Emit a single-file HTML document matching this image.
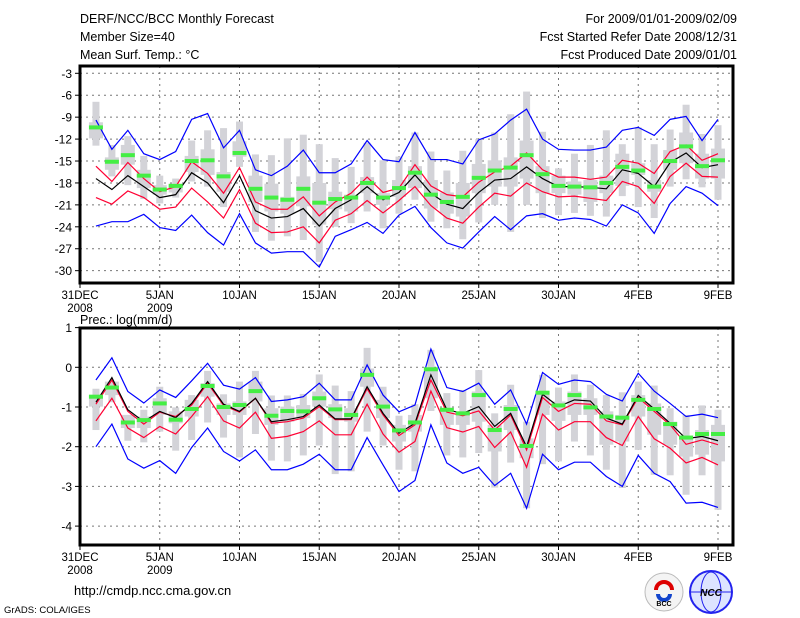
<!DOCTYPE html>
<html><head><meta charset="utf-8">
<style>
body{margin:0;background:#fff;}
svg{display:block;font-family:"Liberation Sans",sans-serif;}
text{fill:#000;}
</style></head>
<body>
<svg id="c" width="800" height="618" viewBox="0 0 800 618" xmlns="http://www.w3.org/2000/svg">
<g font-size="12.5">
<text x="80" y="23">DERF/NCC/BCC Monthly Forecast</text>
<text x="80" y="41">Member Size=40</text>
<text x="80" y="59">Mean Surf. Temp.: °C</text>
<text x="737" y="23" text-anchor="end">For 2009/01/01-2009/02/09</text>
<text x="737" y="41" text-anchor="end">Fcst Started Refer Date 2008/12/31</text>
<text x="737" y="59" text-anchor="end">Fcst Produced Date 2009/01/01</text>
<text x="80" y="324">Prec.: log(mm/d)</text>
</g>
<g id="top"></g>
<g id="bot"></g>
<text x="74" y="595" font-size="13">http://cmdp.ncc.cma.gov.cn</text>
<text x="4" y="613" font-size="9.5">GrADS: COLA/IGES</text>
<g>
<circle cx="664" cy="592" r="19" fill="#f4f4f4" stroke="#bbb"/>
<path d="M656 590 a8 8 0 1 1 16 0" fill="none" stroke="#d00" stroke-width="4"/>
<path d="M658 594 a6 6 0 0 0 12 0" fill="none" stroke="#14c" stroke-width="4"/>
<text x="664" y="606" font-size="7" text-anchor="middle" font-weight="bold">BCC</text>
</g>
<g>
<circle cx="711" cy="592" r="21" fill="#dde4ff" stroke="#22e" stroke-width="2"/>
<ellipse cx="711" cy="592" rx="10" ry="20" fill="none" stroke="#22e"/>
<line x1="691" y1="592" x2="731" y2="592" stroke="#22e"/>
<text x="711" y="596" font-size="10" text-anchor="middle" fill="#22e" font-style="italic" font-weight="bold">NCC</text>
</g>
</svg>
<script>
// ---- Temperature panel data (days 1..40) ----
const tDays = [1,2,3,4,5,6,7,8,9,10,11,12,13,14,15,16,17,18,19,20,21,22,23,24,25,26,27,28,29,30,31,32,33,34,35,36,37,38,39,40];
const tBlueUp = [-9.4,-13.4,-10.8,-14,-14.8,-13.7,-9.3,-8.5,-13.2,-10.8,-16.2,-17,-15.7,-13.5,-16.6,-16.6,-15.4,-12.2,-14.8,-15.1,-11.1,-14.8,-14.8,-15.4,-12.1,-11.3,-9.4,-7.9,-12,-13.4,-13.5,-13.5,-13.1,-10.8,-10.4,-11.5,-9.3,-8.9,-12.2,-9.3];
const tRedUp = [-15.7,-17.8,-15.2,-17.4,-19.2,-18.5,-15.1,-16.7,-19.4,-15.9,-20.6,-21.6,-21.6,-19.9,-22.5,-20.6,-19.4,-17.2,-19.3,-18.7,-15.5,-18.4,-19.6,-19.9,-17.9,-16.5,-15.7,-13.9,-16.2,-17.2,-17.2,-17.5,-17.2,-14.9,-15.3,-16.7,-13.7,-12.8,-14.9,-14];
const tMean = [-17.4,-18.9,-17,-18.5,-20,-19.6,-16.6,-18,-20.7,-17,-21.8,-22.8,-22.6,-21.5,-23.9,-21.5,-20.3,-18.5,-20.3,-19.3,-16.9,-19.4,-20.9,-21.5,-19.3,-17.6,-17.4,-15.8,-17.4,-18.5,-18.5,-18.6,-18.8,-16.2,-16.7,-18.5,-15.2,-13.9,-15.9,-15.5];
const tRedLo = [-20,-20.9,-19.1,-20,-21.6,-21.3,-18.7,-20.6,-22.8,-18.9,-23.5,-24.8,-24.7,-24,-26.2,-23.1,-22.2,-20.4,-22.1,-20.4,-18.5,-21.1,-22.8,-23.5,-21.3,-19.4,-19.8,-18,-19.2,-19.9,-19.8,-20.1,-20.4,-17.8,-18.5,-20.8,-17.1,-15.3,-17.1,-17.2];
const tBlueLo = [-23.9,-23.3,-23.3,-22.3,-24.1,-24.5,-22.4,-24.8,-26.5,-22.2,-26.2,-27.6,-27.4,-27.4,-29.5,-25.3,-24.4,-23.4,-24.9,-22.4,-21.2,-24.1,-26.2,-26.9,-24.7,-22.6,-24.4,-22.5,-22.2,-23.1,-22.8,-23,-23.9,-21,-22.1,-24.9,-20.8,-18.5,-19.4,-21.1];
const tGreen = [-10.4,-15.1,-14.2,-17,-18.9,-18.4,-15,-14.9,-17.1,-13.9,-18.8,-20,-20.3,-18.8,-20.7,-20.2,-20,-18,-20,-18.7,-16.6,-19.6,-20.6,-19.9,-17.3,-16.3,-15.9,-14.2,-16.8,-18.4,-18.5,-18.6,-18,-15.8,-16.3,-18.5,-15,-13,-15.7,-14.9];
const tMax = [-6.9,-12.8,-11.6,-14.3,-17,-17.4,-12.2,-10.8,-10.5,-9.6,-14.1,-14.2,-11.9,-11.4,-12.7,-14.6,-15.8,-12.5,-14.9,-14.4,-11.1,-13.7,-16.3,-13.6,-12,-11.1,-8.6,-5.5,-11,-16,-14,-12.8,-10.8,-12.7,-10.4,-12.7,-10.7,-7.3,-11.3,-10.1];
const tMin = [-12.9,-17.1,-18.3,-20.2,-20.8,-20,-17.8,-18.5,-21.3,-15.8,-24.7,-25.9,-25.3,-25.8,-28.8,-24,-23.5,-21.9,-24.2,-22.2,-20.3,-23.3,-24.2,-25.7,-23.4,-21,-24.7,-21,-22.8,-22.4,-22.1,-22.5,-22.6,-19.8,-21.3,-22.8,-18.5,-17.5,-18.6,-20.3];
const tQ3 = [-9.7,-14.5,-12.8,-16.2,-18.3,-18.1,-14.3,-13.4,-16.5,-12.3,-17,-18.1,-19.9,-17.1,-18,-19.2,-19.6,-17.2,-19.4,-17.6,-15.7,-17.6,-19.3,-18,-15.4,-14.9,-14.5,-12.2,-15.7,-17,-17.8,-17.6,-17,-14,-15.3,-17.6,-13.5,-11.1,-14,-13.3];
const tQ1 = [-11.9,-16.2,-15.5,-18.7,-19.6,-19.3,-16.5,-16.9,-19.2,-14.4,-20.6,-21.9,-22.2,-21.2,-23.7,-21.6,-21.9,-19.4,-21,-19.9,-18.7,-21.5,-22.2,-22.6,-19.4,-18.5,-18.5,-17.4,-19.4,-19.4,-19.6,-20.6,-19.4,-18.4,-16.9,-19.2,-16.2,-15.3,-17.4,-17.4];
const tTicks = [-3,-6,-9,-12,-15,-18,-21,-24,-27,-30];

// ---- Precipitation panel data ----
const pBlueUp = [-0.32,0.24,-0.61,-0.9,-0.57,-0.76,-0.34,0.1,-0.45,-0.55,-0.26,-0.86,-0.82,-0.74,-0.4,-0.82,-0.82,0.06,-0.7,-1.12,-0.95,0.46,-0.51,-0.61,-0.4,-0.93,-0.57,-1.43,-0.13,-0.43,-0.32,-0.36,-0.68,-0.85,-0.15,-0.6,-0.91,-1.24,-1.18,-1.27];
const pRedUp = [-0.93,-0.32,-1.11,-1.43,-1.13,-1.24,-0.95,-0.4,-0.96,-1.13,-0.78,-1.41,-1.37,-1.28,-0.99,-1.32,-1.32,-0.54,-1.2,-1.72,-1.45,-0.32,-1.13,-1.22,-1.1,-1.58,-1.2,-2.08,-0.76,-1.11,-0.91,-0.93,-1.35,-1.45,-0.76,-1.11,-1.45,-1.94,-1.83,-1.95];
const pMean = [-0.88,-0.26,-1.07,-1.37,-1.11,-1.27,-0.91,-0.36,-0.93,-1.11,-0.78,-1.37,-1.32,-1.24,-0.95,-1.3,-1.3,-0.49,-1.16,-1.66,-1.41,-0.19,-1.07,-1.16,-0.99,-1.49,-1.16,-2,-0.68,-0.99,-0.82,-0.85,-1.28,-1.43,-0.71,-1.05,-1.41,-1.8,-1.74,-1.85];
const pRedLo = [-1.35,-0.78,-1.53,-1.77,-1.49,-1.68,-1.24,-0.74,-1.35,-1.53,-1.13,-1.79,-1.74,-1.62,-1.35,-1.7,-1.7,-0.93,-1.68,-2.14,-1.87,-0.6,-1.52,-1.63,-1.49,-2.02,-1.63,-2.52,-1.18,-1.58,-1.37,-1.37,-1.77,-1.97,-1.24,-1.8,-2.04,-2.41,-2.27,-2.46];
const pBlueLo = [-2,-1.43,-2.31,-2.54,-2.35,-2.67,-2.02,-1.53,-2.12,-2.36,-2.08,-2.58,-2.58,-2.44,-2.19,-2.58,-2.58,-1.77,-2.46,-3.13,-2.85,-1.45,-2.41,-2.67,-2.52,-2.98,-2.67,-3.55,-2.19,-2.58,-2.39,-2.39,-2.75,-3,-2.22,-2.67,-2.88,-3.42,-3.4,-3.53];
const pGreen = [-0.74,-0.51,-1.39,-1.33,-0.91,-1.32,-1.05,-0.47,-1,-0.95,-0.6,-1.22,-1.1,-1.11,-0.78,-1.06,-1.2,-0.19,-0.99,-1.59,-1.39,-0.05,-1.07,-1.16,-0.7,-1.58,-1.05,-1.98,-0.64,-0.96,-0.7,-1.01,-1.24,-1.27,-0.82,-1.05,-1.43,-1.77,-1.68,-1.68];
const pMax = [-0.54,-0.36,-1.2,-1.07,-0.49,-1.01,-0.7,-0.09,-0.68,-0.36,-0.09,-0.71,-0.71,-0.67,-0.18,-0.46,-0.6,0.49,-0.49,-1.22,-0.93,0.44,-0.65,-0.57,-0.07,-1.16,-0.44,-1.37,-0.19,-0.51,-0.18,-0.44,-0.7,-0.63,-0.36,-0.46,-1.03,-1.2,-0.96,-1.07];
const pMin = [-1.58,-0.88,-1.85,-1.89,-1.62,-2.1,-1.83,-1.39,-1.77,-2.27,-1.68,-2.35,-2.37,-2.22,-1.97,-2.69,-2.62,-1.62,-1.97,-2.58,-2.62,-1.1,-2.22,-2.27,-2.16,-3.03,-2.4,-3.55,-2.44,-2.37,-1.87,-2.22,-2.58,-3.04,-2.08,-2.71,-2.72,-3.21,-2.72,-3.59];
const pQ3 = [-0.7,-0.36,-1.2,-1.24,-0.78,-1.11,-0.82,-0.4,-0.91,-0.86,-0.36,-1.03,-0.99,-0.95,-0.61,-0.93,-1.03,-0.03,-0.82,-1.45,-1.2,-0.03,-1.07,-1.11,-0.61,-1.45,-0.95,-1.79,-0.61,-0.86,-0.61,-0.78,-1.11,-1.2,-0.7,-0.91,-1.37,-1.74,-1.58,-1.45];
const pQ1 = [-0.99,-0.7,-1.53,-1.53,-1.2,-1.41,-1.24,-0.74,-1.2,-1.2,-0.86,-1.45,-1.37,-1.28,-0.99,-1.28,-1.37,-0.49,-1.28,-1.87,-1.62,-0.78,-1.45,-1.45,-1.37,-2.12,-1.58,-2.29,-1.2,-1.35,-1.2,-1.2,-1.95,-1.87,-1.24,-1.7,-1.95,-2.25,-2.2,-2.37];
const pTicks = [1,0,-1,-2,-3,-4];

const xTickDays = [0,5,10,15,20,25,30,35,40];
const xTickLab1 = ['31DEC','5JAN','10JAN','15JAN','20JAN','25JAN','30JAN','4FEB','9FEB'];
const xTickLab2 = ['2008','2009','','','','','','',''];

const NS='http://www.w3.org/2000/svg';
function mk(parent,tag,attrs){const e=document.createElementNS(NS,tag);for(const k in attrs)e.setAttribute(k,attrs[k]);parent.appendChild(e);return e;}
const X = d => 80 + d*15.95;

function panel(g, top, bottom, Y, ticks, d){
  // grid
  xTickDays.forEach((dd,i)=>{
    if(dd>0 && dd<41){
      const l=mk(g,'line',{x1:X(dd),x2:X(dd),y1:top,y2:bottom,stroke:'#777','stroke-dasharray':'2,4','stroke-width':1});
      
      
    }
    const tk=mk(g,'line',{x1:X(dd),x2:X(dd),y1:bottom,y2:bottom+5,stroke:'#000'});
    
    
    const t=mk(g,'text',{x:X(dd),y:bottom+16,'font-size':11.5,'text-anchor':'middle'});
    t.textContent=xTickLab1[i];
    
    
    if(xTickLab2[i]){
      const t2=mk(g,'text',{x:X(dd),y:bottom+29,'font-size':11.5,'text-anchor':'middle'});
      t2.textContent=xTickLab2[i];
      
      
    }
  });
  ticks.forEach(v=>{
    const y=Y(v);
    const l=mk(g,'line',{x1:80,x2:733,y1:y,y2:y,stroke:'#777','stroke-dasharray':'2,4','stroke-width':1});
    
    
    const tk=mk(g,'line',{x1:75,x2:80,y1:y,y2:y,stroke:'#000'});
    
    
    const t=mk(g,'text',{x:72,y:y+4.5,'font-size':12,'text-anchor':'end'});
    t.textContent=String(v);
    
    
  });
  // boxes
  tDays.forEach((day,i)=>{
    const r=mk(g,'rect',{x:X(day)-3.5,width:7,y:Y(d.max[i]),height:Y(d.min[i])-Y(d.max[i]),fill:'#d3d3d8'});
    
    
    const q=mk(g,'rect',{x:X(day)-7,width:14,y:Y(d.q3[i]),height:Y(d.q1[i])-Y(d.q3[i]),fill:'#d3d3d8'});
    
    
  });
  const series=[[d.blueUp,'#0000ff','blue-upper-line'],[d.blueLo,'#0000ff','blue-lower-line'],[d.redUp,'#ff0033','red-upper-line'],[d.redLo,'#ff0033','red-lower-line'],[d.mean,'#000','ensemble-mean-line']];
  series.forEach(([arr,col,name])=>{
    const p=mk(g,'polyline',{points:arr.map((v,i)=>X(tDays[i])+','+Y(v)).join(' '),fill:'none',stroke:col,'stroke-width':1.2});
    
    
  });
  tDays.forEach((day,i)=>{
    const r=mk(g,'rect',{x:X(day)-7,width:14,y:Y(d.green[i])-2,height:4,fill:'#44ee44'});
    
    
  });
  const f=mk(g,'rect',{x:80,y:top,width:653,height:bottom-top,fill:'none',stroke:'#000','stroke-width':3});
  
  
}
panel(document.getElementById('top'),66,283,v=>73.3+(-3-v)*7.31,tTicks,
 {blueUp:tBlueUp,blueLo:tBlueLo,redUp:tRedUp,redLo:tRedLo,mean:tMean,green:tGreen,max:tMax,min:tMin,q3:tQ3,q1:tQ1});
panel(document.getElementById('bot'),328,545,v=>367.3-v*39.7,pTicks,
 {blueUp:pBlueUp,blueLo:pBlueLo,redUp:pRedUp,redLo:pRedLo,mean:pMean,green:pGreen,max:pMax,min:pMin,q3:pQ3,q1:pQ1});
</script>
</body></html>
